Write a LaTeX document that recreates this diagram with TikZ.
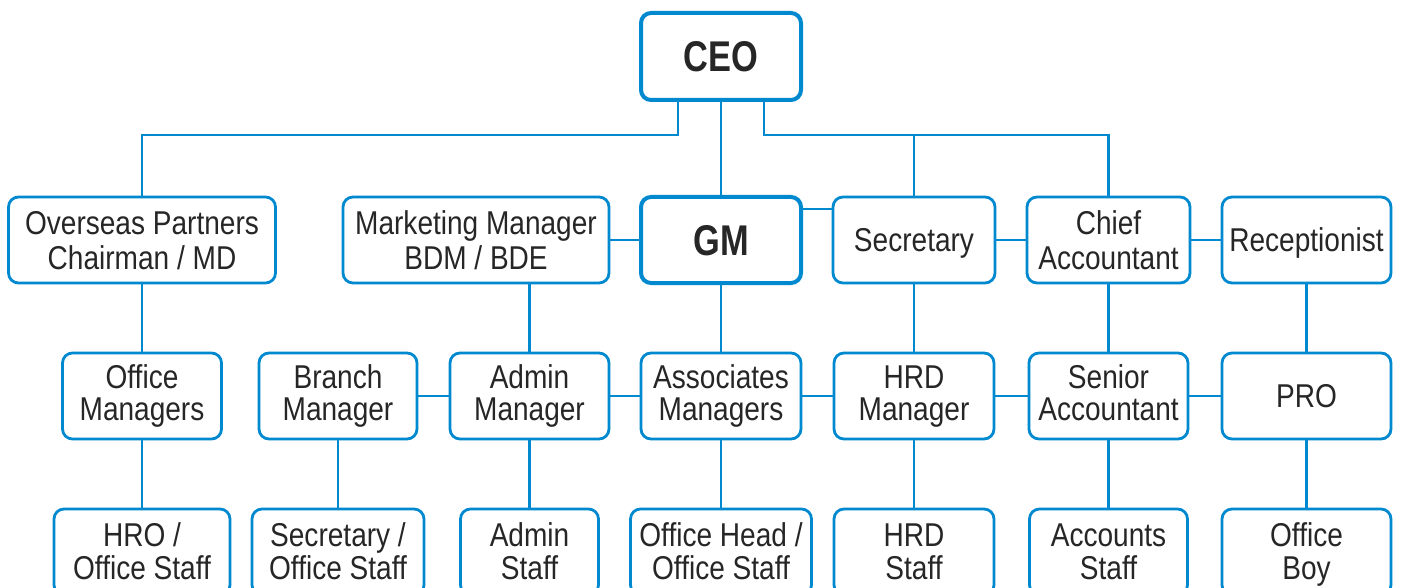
\documentclass[tikz,border=0pt]{standalone}
\usepackage{fontspec}
\setmainfont{Liberation Sans}[FakeStretch=0.85, BoldFeatures={FakeStretch=0.8}]
\definecolor{orgblue}{RGB}{0,137,207}
\definecolor{txt}{RGB}{38,38,38}
\begin{document}
\begin{tikzpicture}[x=1pt, y=-1pt,
  box/.style={draw=orgblue, line width=2.8pt, rounded corners=10pt,
    minimum height=86pt, inner sep=0pt, align=center, text=txt,
    text height=23.6pt, text depth=1.6pt,
    font=\fontsize{33}{35}\selectfont},
  topbox/.style={box, text height=62.6pt, text depth=3pt},
  midbox/.style={box, font=\fontsize{33}{32}\selectfont, text height=55.6pt, text depth=6pt},
  lowbox/.style={box, font=\fontsize{33}{33}\selectfont, text height=60.6pt, text depth=6pt},
  keybox/.style={box, line width=4pt, minimum height=87pt,
    text height=31pt, text depth=0pt,
    font=\fontsize{43}{45}\selectfont\bfseries},
  link/.style={draw=orgblue, line width=2.5pt}]
\clip (0,0) rectangle (1402,588);

% top
\node[keybox, minimum width=160pt] (ceo) at (721,56.5) {CEO};

% second level
\node[topbox, minimum width=267pt] (over) at (142,240) {Overseas Partners\\Chairman / MD};
\node[topbox, minimum width=266pt] (mkt) at (476,240) {Marketing Manager\\BDM / BDE};
\node[keybox, minimum width=160pt, minimum height=86pt] (gm) at (721,240) {GM};
\node[box, minimum width=162pt] (sec) at (914,240) {Secretary};
\node[topbox, minimum width=163pt] (chief) at (1108.5,240) {Chief\\Accountant};
\node[box, minimum width=169pt] (rec) at (1306.5,240) {Receptionist};

% third level
\node[midbox, minimum width=159pt] (offm) at (142,396) {Office\\Managers};
\node[midbox, minimum width=158pt] (branch) at (338,396) {Branch\\Manager};
\node[midbox, minimum width=159pt] (adm) at (529.5,396) {Admin\\Manager};
\node[midbox, minimum width=160pt] (assoc) at (721,396) {Associates\\Managers};
\node[midbox, minimum width=160pt] (hrd) at (914,396) {HRD\\Manager};
\node[midbox, minimum width=159pt] (senior) at (1108.5,396) {Senior\\Accountant};
\node[box, minimum width=169pt] (pro) at (1306.5,396) {PRO};

% staff level
\node[lowbox, minimum width=176pt] (hro) at (142,552) {HRO /\\Office Staff};
\node[lowbox, minimum width=172pt] (secst) at (338,552) {Secretary /\\Office Staff};
\node[lowbox, minimum width=138pt] (admst) at (529.5,552) {Admin\\Staff};
\node[lowbox, minimum width=181pt] (head) at (721,552) {Office Head /\\Office Staff};
\node[lowbox, minimum width=160pt] (hrdst) at (914,552) {HRD\\Staff};
\node[lowbox, minimum width=158pt] (accst) at (1108.5,552) {Accounts\\Staff};
\node[lowbox, minimum width=169pt] (boy) at (1306.5,552) {Office\\Boy};

% CEO bus
\coordinate (bus) at (0,135);
\draw[link] ([xshift=-43pt]ceo.south) -- ([xshift=-43pt]ceo.south |- bus) -| (over.north);
\draw[link] ([xshift=43pt]ceo.south) -- ([xshift=43pt]ceo.south |- bus) -| (chief.north);
\draw[link] (sec.north) -- (sec.north |- bus);
\draw[link] (ceo.south) -- (gm.north);

% second level links
\draw[link] (mkt.east) -- (gm.west);
\draw[link] ([yshift=31pt]gm.east) -- ([yshift=31pt]gm.east -| sec.west);
\draw[link] (sec.east) -- (chief.west);
\draw[link] (chief.east) -- (rec.west);

% second to third
\draw[link] (over.south) -- (offm.north);
\draw[link] (mkt.south -| adm.north) -- (adm.north);
\draw[link] (gm.south) -- (assoc.north);
\draw[link] (sec.south) -- (hrd.north);
\draw[link] (chief.south) -- (senior.north);
\draw[link] (rec.south) -- (pro.north);

% third level links
\draw[link] (branch.east) -- (adm.west);
\draw[link] (adm.east) -- (assoc.west);
\draw[link] (assoc.east) -- (hrd.west);
\draw[link] (hrd.east) -- (senior.west);
\draw[link] (senior.east) -- (pro.west);

% third to staff
\draw[link] (offm.south) -- (hro.north);
\draw[link] (branch.south) -- (secst.north);
\draw[link] (adm.south) -- (admst.north);
\draw[link] (assoc.south) -- (head.north);
\draw[link] (hrd.south) -- (hrdst.north);
\draw[link] (senior.south) -- (accst.north);
\draw[link] (pro.south) -- (boy.north);
\end{tikzpicture}
\end{document}
